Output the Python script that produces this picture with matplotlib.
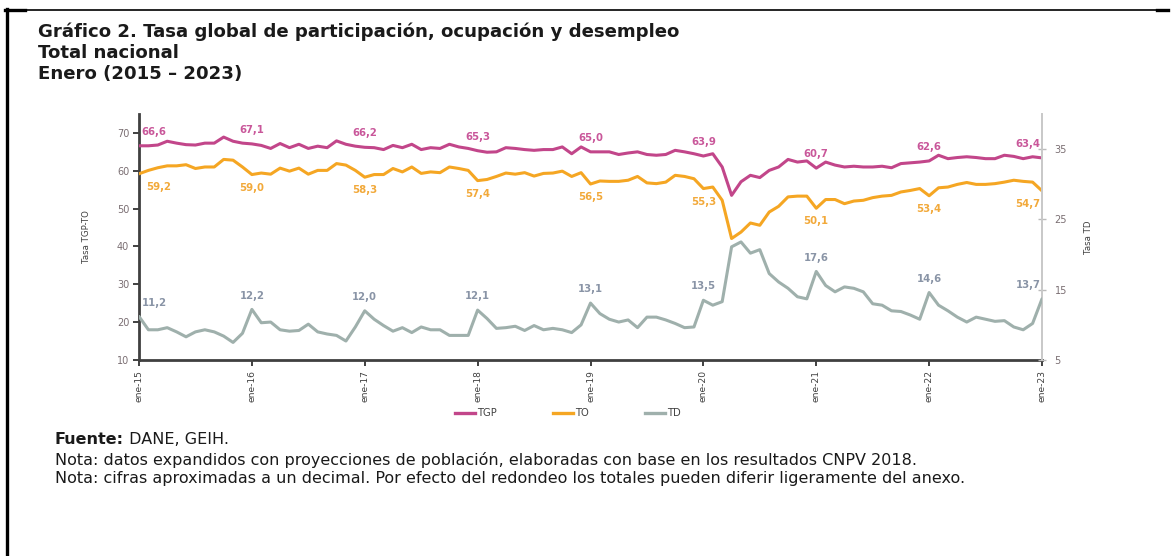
import numpy as np
import matplotlib
matplotlib.use("Agg")
import matplotlib.pyplot as plt
from matplotlib.lines import Line2D

# ---------------- data ----------------
years = ["15", "16", "17", "18", "19", "20", "21", "22", "23"]
tick_labels = ["ene-" + y for y in years]

tgp = [66.6, 66.6, 66.8, 67.8, 67.3, 66.9, 66.8, 67.3, 67.3, 68.9, 67.8, 67.3,
       67.1, 66.7, 65.9, 67.2, 66.1, 67.0, 65.9, 66.5, 66.1, 67.9, 67.0, 66.5,
       66.2, 66.1, 65.6, 66.7, 66.1, 67.0, 65.6, 66.1, 65.9, 67.0, 66.3, 65.9,
       65.3, 64.9, 65.0, 66.1, 65.9, 65.6, 65.4, 65.6, 65.6, 66.3, 64.5, 66.3,
       65.0, 65.0, 65.0, 64.3, 64.7, 65.0, 64.3, 64.1, 64.3, 65.4, 65.0, 64.5,
       63.9, 64.5, 61.0, 53.5, 57.1, 58.8, 58.2, 60.1, 61.0, 63.0, 62.3, 62.6,
       60.7, 62.3, 61.5, 61.0, 61.2, 61.0, 61.0, 61.2, 60.8, 61.9, 62.1, 62.3,
       62.6, 64.1, 63.2, 63.5, 63.7, 63.5, 63.2, 63.2, 64.1, 63.8, 63.2, 63.7,
       63.4]

to = [59.2, 60.1, 60.8, 61.3, 61.3, 61.6, 60.6, 61.0, 61.0, 63.0, 62.8, 61.0,
      59.0, 59.4, 59.1, 60.7, 59.9, 60.7, 59.1, 60.1, 60.1, 61.9, 61.5, 60.1,
      58.3, 59.0, 59.0, 60.6, 59.7, 61.0, 59.3, 59.7, 59.5, 61.0, 60.6, 60.1,
      57.4, 57.7, 58.5, 59.4, 59.1, 59.5, 58.6, 59.3, 59.4, 59.9, 58.5, 59.5,
      56.5, 57.3, 57.2, 57.2, 57.5, 58.5, 56.8, 56.6, 57.0, 58.8, 58.5, 57.9,
      55.3, 55.7, 52.2, 42.1, 43.8, 46.2, 45.6, 49.1, 50.6, 53.1, 53.3, 53.3,
      50.1, 52.4, 52.4, 51.3, 52.0, 52.2, 52.9, 53.3, 53.5, 54.4, 54.8, 55.3,
      53.4, 55.5, 55.7, 56.4, 56.9, 56.4, 56.4, 56.6, 57.0, 57.5, 57.2, 57.0,
      54.7]

td = [11.2, 9.3, 9.3, 9.6, 9.0, 8.3, 9.0, 9.3, 9.0, 8.4, 7.5, 8.8,
      12.2, 10.3, 10.4, 9.3, 9.1, 9.2, 10.1, 9.0, 8.7, 8.5, 7.7, 9.7,
      12.0, 10.8, 9.9, 9.1, 9.6, 8.9, 9.7, 9.3, 9.3, 8.5, 8.5, 8.5,
      12.1, 10.9, 9.5, 9.6, 9.8, 9.2, 9.9, 9.3, 9.5, 9.3, 8.9, 10.0,
      13.1, 11.6, 10.8, 10.4, 10.7, 9.6, 11.1, 11.1, 10.7, 10.2, 9.6, 9.7,
      13.5, 12.8, 13.3, 21.1, 21.8, 20.2, 20.7, 17.3, 16.1, 15.2, 14.0, 13.7,
      17.6, 15.6, 14.7, 15.4, 15.2, 14.7, 13.0, 12.8, 12.0, 11.9, 11.4, 10.8,
      14.6, 12.8, 12.0, 11.1, 10.4, 11.1, 10.8, 10.5, 10.6, 9.7, 9.3, 10.2,
      13.7]

# ---------------- style ----------------
C_TGP = "#C2468A"
C_TO = "#F5A623"
C_TD = "#9FB0AC"
L_TGP = "#C9579A"
L_TO = "#F2A93A"
L_TD = "#8994A6"
TICKC = "#7A6E72"

W, H, DPI = 1172, 556, 100
fig = plt.figure(figsize=(W / DPI, H / DPI), dpi=DPI)
fig.patch.set_facecolor("white")

def fx(px):
    return px / W

def fy(py):
    return 1 - py / H

ax = fig.add_axes([fx(139), fy(360), fx(1042) - fx(139), fy(114) - fy(360)])
ax2 = ax.twinx()

x = np.arange(len(tgp))
lw = 2.2
ax.plot(x, tgp, color=C_TGP, lw=lw, solid_joinstyle="round", solid_capstyle="round", zorder=3)
ax.plot(x, to, color=C_TO, lw=lw, solid_joinstyle="round", solid_capstyle="round", zorder=3)
ax2.plot(x, td, color=C_TD, lw=lw, solid_joinstyle="round", solid_capstyle="round", zorder=3)

ax.set_xlim(0, len(tgp) - 1)
ax.set_ylim(10, 75)
ax2.set_ylim(5, 40)

jan = np.arange(0, len(tgp), 12)
ax.set_xticks(jan)
ax.set_xticklabels(tick_labels, rotation=90, fontsize=6.6, color="#404040")
ax.set_yticks(np.arange(10, 71, 10))
ax.tick_params(axis="y", labelsize=7, labelcolor=TICKC, color="#404040", length=4, width=1.4, pad=3)
ax.tick_params(axis="x", color="#404040", length=4, width=1.4, pad=3)
ax2.set_yticks([5, 15, 25, 35])
ax2.tick_params(axis="y", labelsize=7, labelcolor=TICKC, color="#BBBBBB", length=6,
                width=1.0, direction="inout", pad=6)

for a in (ax, ax2):
    a.spines["top"].set_visible(False)
    a.set_facecolor("none")
ax.spines["left"].set_color("#404040")
ax.spines["left"].set_linewidth(2.0)
ax.spines["bottom"].set_color("#404040")
ax.spines["bottom"].set_linewidth(2.0)
ax2.spines["left"].set_visible(False)
ax2.spines["bottom"].set_visible(False)
ax2.spines["right"].set_color("#C8C8C8")
ax2.spines["right"].set_linewidth(1.4)
ax.spines["right"].set_visible(False)

ax.set_ylabel("Tasa TGP-TO", fontsize=6.2, color="#404040", labelpad=19)
ax2.set_ylabel("Tasa TD", fontsize=6.2, color="#404040", labelpad=12, rotation=90)

# ---------------- data labels ----------------
def fmt(v):
    return ("%.1f" % v).replace(".", ",")

n_lab = len(jan)
for k, i in enumerate(jan):
    if k == 0:
        ha, dx = "left", 2
    elif k == n_lab - 1:
        ha, dx = "right", -1
    else:
        ha, dx = "center", 0
    ax.annotate(fmt(tgp[i]), (i, tgp[i]), xytext=(dx, 10), textcoords="offset points",
                ha=ha, va="center", fontsize=7.3, fontweight="bold", color=L_TGP)
    ax.annotate(fmt(to[i]), (i, to[i]), xytext=(dx + (3 if k == 0 else 0), -9.5),
                textcoords="offset points",
                ha=ha, va="center", fontsize=7.3, fontweight="bold", color=L_TO)
    ax2.annotate(fmt(td[i]), (i, td[i]), xytext=(dx, 10), textcoords="offset points",
                 ha=ha, va="center", fontsize=7.3, fontweight="bold", color=L_TD)

# ---------------- legend ----------------
handles = [Line2D([], [], color=C_TGP, lw=2.4),
           Line2D([], [], color=C_TO, lw=2.4),
           Line2D([], [], color=C_TD, lw=2.4)]
fig.legend(handles, ["TGP", "TO", "TD"], loc="center",
           bbox_to_anchor=(fx(568), fy(413)), ncol=3, frameon=False,
           fontsize=7.2, handlelength=2.0, handletextpad=0.2, columnspacing=5.6,
           labelcolor="#404040")

# ---------------- texts ----------------
renderer = fig.canvas.get_renderer()

def fit_text(xpx, ypx, s, width_px, weight="normal", family="DejaVu Sans", color="#1a1a1a"):
    t = fig.text(fx(xpx), fy(ypx), s, fontsize=10, fontweight=weight, family=family,
                 color=color, ha="left", va="center")
    w = t.get_window_extent(renderer).width
    t.set_fontsize(10 * width_px / w)
    return t

t1 = fit_text(38, 32, "Gráfico 2. Tasa global de participación, ocupación y desempleo", 645, weight="bold")
fs_title = t1.get_fontsize()
fig.text(fx(38), fy(53), "Total nacional", fontsize=fs_title, fontweight="bold",
         family="DejaVu Sans", color="#1a1a1a", ha="left", va="center")
fig.text(fx(38), fy(74), "Enero (2015 – 2023)", fontsize=fs_title, fontweight="bold",
         family="DejaVu Sans", color="#1a1a1a", ha="left", va="center")

n2 = fit_text(55, 479, "Nota: cifras aproximadas a un decimal. Por efecto del redondeo los totales "
              "pueden diferir ligeramente del anexo.", 905)
fs_note = n2.get_fontsize()
fig.text(fx(55), fy(460), "Nota: datos expandidos con proyecciones de población, elaboradas con "
         "base en los resultados CNPV 2018.", fontsize=fs_note, family="DejaVu Sans",
         color="#1a1a1a", ha="left", va="center")
f1 = fig.text(fx(55), fy(440), "Fuente:", fontsize=fs_note, fontweight="bold",
              family="DejaVu Sans", color="#1a1a1a", ha="left", va="center")
wf = f1.get_window_extent(renderer).width
fig.text(fx(55 + wf), fy(440), " DANE, GEIH.", fontsize=fs_note, family="DejaVu Sans",
         color="#1a1a1a", ha="left", va="center")

# ---------------- frame lines ----------------
fig.add_artist(Line2D([fx(5), fx(1168)], [fy(10), fy(10)], color="black", lw=1.2))
fig.add_artist(Line2D([fx(5), fx(25)], [fy(10), fy(10)], color="black", lw=2.4))
fig.add_artist(Line2D([fx(1157), fx(1168)], [fy(10), fy(10)], color="black", lw=2.4))
fig.add_artist(Line2D([fx(6.5), fx(6.5)], [fy(9), fy(556)], color="black", lw=2.4))

fig.savefig("out.png", dpi=DPI, facecolor="white")
